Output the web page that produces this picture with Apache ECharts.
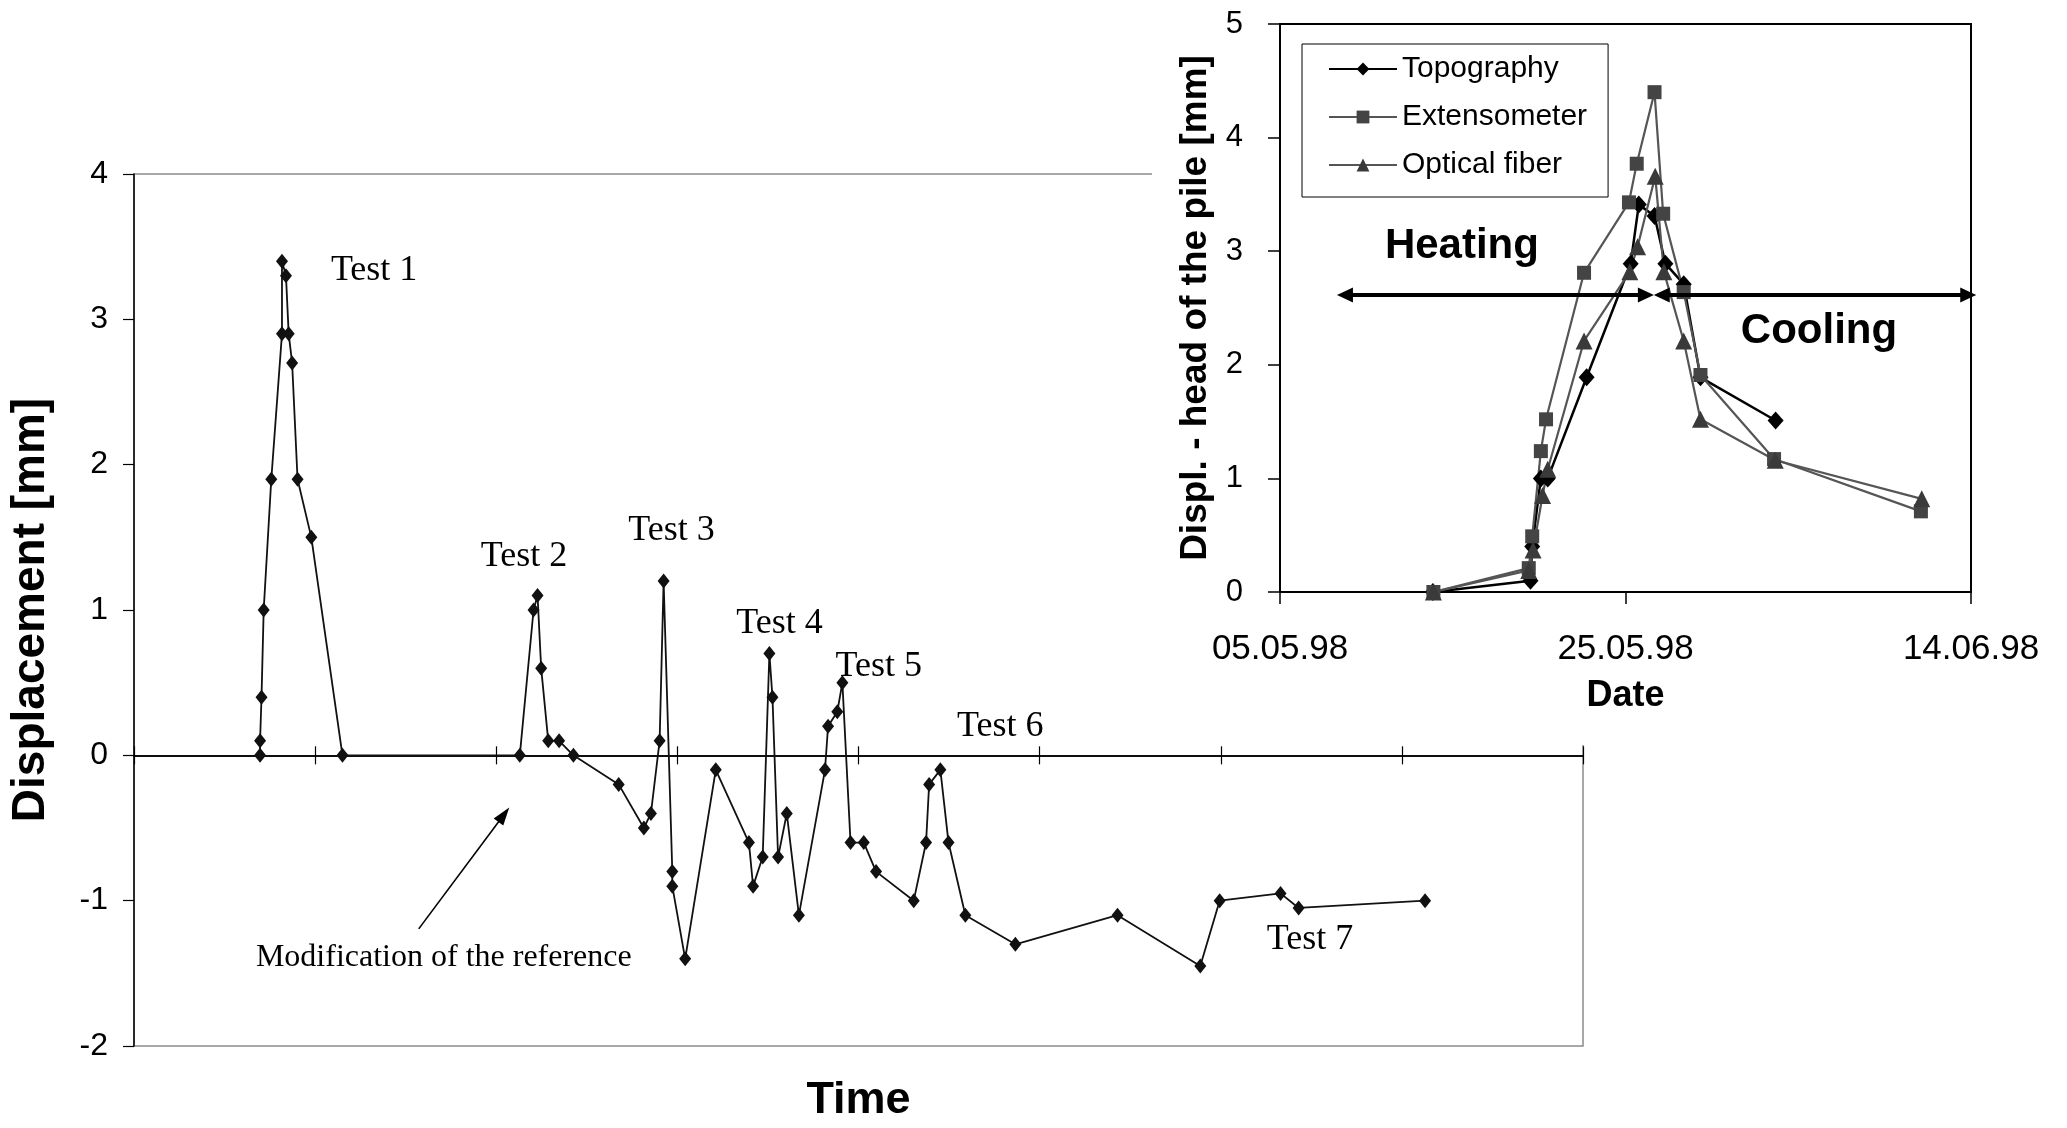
<!DOCTYPE html>
<html>
<head>
<meta charset="utf-8">
<script src="https://cdn.jsdelivr.net/npm/echarts@6/dist/echarts.min.js"></script>
<style>
html,body{margin:0;padding:0;background:#fff;}
#chart{width:2067px;height:1128px;}
</style>
</head>
<body>
<div id="chart"></div>
<script>
// ---------- Main chart data (time in arbitrary units, displacement in mm) ----------
const timeValues = [
  0.696, 0.696, 0.704, 0.716, 0.758, 0.817, 0.817, 0.839, 0.854, 0.873, 0.903, 0.979, 1.151,
  2.130, 2.206, 2.228, 2.248, 2.287, 2.347, 2.426, 2.676, 2.815, 2.854, 2.902, 2.924, 2.972, 2.972,
  3.043, 3.212, 3.395, 3.418, 3.471, 3.508, 3.525, 3.556, 3.604, 3.671, 3.815, 3.832, 3.883, 3.911,
  3.956, 4.029, 4.097, 4.305, 4.373, 4.390, 4.452, 4.497, 4.590, 4.866, 5.430, 5.887, 5.994, 6.330,
  6.430, 7.128
];
const displacementValues = [
  0, 0.1, 0.4, 1.0, 1.9, 2.9, 3.4, 3.3, 2.9, 2.7, 1.9, 1.5, 0,
  0, 1.0, 1.1, 0.6, 0.1, 0.1, 0, -0.2, -0.5, -0.4, 0.1, 1.2, -0.8, -0.9,
  -1.4, -0.1, -0.6, -0.9, -0.7, 0.7, 0.4, -0.7, -0.4, -1.1, -0.1, 0.2, 0.3, 0.5,
  -0.6, -0.6, -0.8, -1.0, -0.6, -0.2, -0.1, -0.6, -1.1, -1.3, -1.1, -1.45, -1.0, -0.95,
  -1.05, -1.0
];
const mainYTicks = [-2, -1, 0, 1, 2, 3, 4];

// ---------- Inset data (days after 05.05.98, displacement in mm) ----------
const dateTickLabels = ['05.05.98', '25.05.98', '14.06.98'];
const topoDays   = [8.85, 14.5, 14.6, 15.1, 15.5, 17.75, 20.3, 20.77, 21.68, 22.31, 23.37, 24.34, 28.69];
const topoValues = [0, 0.10, 0.40, 1.00, 1.00, 1.89, 2.89, 3.41, 3.31, 2.89, 2.71, 1.89, 1.51];
const extDays    = [8.88, 14.4, 14.6, 15.1, 15.4, 17.6, 20.2, 20.65, 21.68, 22.18, 23.37, 24.34, 28.6, 37.1];
const extValues  = [0, 0.21, 0.49, 1.24, 1.52, 2.81, 3.43, 3.77, 4.40, 3.33, 2.64, 1.91, 1.17, 0.71];
const fiberDays  = [8.88, 14.4, 14.65, 15.2, 15.5, 17.6, 20.25, 20.7, 21.72, 22.22, 23.37, 24.34, 28.67, 37.15];
const fiberValues= [0, 0.19, 0.37, 0.85, 1.08, 2.21, 2.82, 3.04, 3.66, 2.82, 2.21, 1.52, 1.16, 0.82];

// ---------- Annotations (in data coordinates) ----------
const mainNotes = [
  {text: 'Test 1', x: 1.087, y: 3.338, size: 36},
  {text: 'Test 2', x: 1.914, y: 1.369, size: 36},
  {text: 'Test 3', x: 2.729, y: 1.546, size: 36},
  {text: 'Test 4', x: 3.325, y: 0.909, size: 36},
  {text: 'Test 5', x: 3.873, y: 0.608, size: 36},
  {text: 'Test 6', x: 4.544, y: 0.201, size: 36},
  {text: 'Test 7', x: 6.254, y: -1.265, size: 36},
  {text: 'Modification of the reference', x: 0.673, y: -1.39, size: 32}
];
const insetNotes = [
  {text: 'Heating', x: 10.53, y: 3.046},
  {text: 'Cooling', x: 31.2, y: 2.29}
];

const pairs = (xs, ys) => xs.map((x, i) => [x, ys[i]]);
const SANS = '"Liberation Sans", Arial, sans-serif';
const SERIF = '"Liberation Serif", "Times New Roman", serif';

const chart = echarts.init(document.getElementById('chart'), null, {renderer: 'canvas'});

const mainAxisLine = {color: '#000', width: 1.5};
const option = {
  animation: false,
  backgroundColor: '#fff',
  grid: [
    {left: 133, top: 174, width: 1450, height: 881, show: true, borderColor: '#8c8c8c', borderWidth: 1.5, z: 0},
    {left: 1280, top: 24, width: 691, height: 568, show: true, borderColor: '#000', borderWidth: 2, backgroundColor: '#fff', z: 11}
  ],
  xAxis: [
    {gridIndex: 0, type: 'value', min: 0, max: 8, interval: 1, position: 'bottom',
     axisLine: {onZero: true, onZeroAxisIndex: 0, lineStyle: mainAxisLine},
     axisTick: {show: true, length: 9, lineStyle: {color: '#000', width: 1.2}},
     axisLabel: {show: false}, splitLine: {show: false}},
    {gridIndex: 0, type: 'value', min: 0, max: 8, interval: 1, position: 'top',
     axisLine: {onZero: true, onZeroAxisIndex: 0, lineStyle: mainAxisLine},
     axisTick: {show: true, length: 9, lineStyle: {color: '#000', width: 1.2}},
     axisLabel: {show: false}, splitLine: {show: false}},
    {gridIndex: 0, type: 'value', min: 0, max: 8, position: 'bottom',
     axisLine: {show: false, onZero: false}, axisTick: {show: false}, axisLabel: {show: false}, splitLine: {show: false},
     name: 'Time', nameLocation: 'middle', nameGap: 32,
     nameTextStyle: {fontFamily: SANS, fontWeight: 'bold', fontSize: 45, color: '#000'}},
    {gridIndex: 1, type: 'value', min: 0, max: 40, interval: 20, z: 12,
     axisLine: {onZero: false, lineStyle: {color: '#000', width: 2}},
     axisTick: {show: true, length: 12, lineStyle: {color: '#000', width: 1.5}},
     axisLabel: {margin: 40, fontSize: 35, fontFamily: SANS, color: '#000',
                 formatter: v => dateTickLabels[Math.round(v / 20)]},
     splitLine: {show: false},
     name: 'Date', nameLocation: 'middle', nameGap: 86,
     nameTextStyle: {fontFamily: SANS, fontWeight: 'bold', fontSize: 36, color: '#000'}}
  ],
  yAxis: [
    {gridIndex: 0, type: 'value', min: mainYTicks[0], max: mainYTicks[mainYTicks.length - 1], interval: 1,
     axisLine: {show: true, onZero: false, lineStyle: mainAxisLine},
     axisTick: {show: true, length: 11, lineStyle: {color: '#000', width: 1.2}},
     axisLabel: {margin: 26, fontSize: 32, fontFamily: SANS, color: '#000'},
     splitLine: {show: false},
     name: 'Displacement [mm]', nameLocation: 'middle', nameGap: 80,
     nameTextStyle: {fontFamily: SANS, fontWeight: 'bold', fontSize: 46, color: '#000'}},
    {gridIndex: 1, type: 'value', min: 0, max: 5, interval: 1, z: 12,
     axisLine: {show: true, onZero: false, lineStyle: {color: '#000', width: 2}},
     axisTick: {show: true, length: 12, lineStyle: {color: '#000', width: 1.5}},
     axisLabel: {margin: 37, fontSize: 31, fontFamily: SANS, color: '#000'},
     splitLine: {show: false},
     name: 'Displ. - head of the pile [mm]', nameLocation: 'middle', nameGap: 66,
     nameTextStyle: {fontFamily: SANS, fontWeight: 'bold', fontSize: 37, color: '#000'}}
  ],
  legend: {
    data: ['Topography', 'Extensometer', 'Optical fiber'],
    orient: 'vertical', left: 1302, top: 44, z: 14,
    padding: [10, 21, 17, 26], itemGap: 18, itemWidth: 68, itemHeight: 16,
    backgroundColor: '#fff', borderColor: '#000', borderWidth: 1, borderRadius: 0,
    textStyle: {fontFamily: SANS, fontSize: 30, color: '#000', lineHeight: 30}
  },
  series: [
    {type: 'line', name: 'Displacement', xAxisIndex: 0, yAxisIndex: 0, z: 3,
     data: pairs(timeValues, displacementValues),
     symbol: 'diamond', symbolSize: [12, 15],
     lineStyle: {color: '#111', width: 1.8}, itemStyle: {color: '#111'},
     markLine: {silent: true, z: 5, symbol: ['none', 'triangle'], symbolSize: [12, 18],
       label: {show: false}, lineStyle: {color: '#000', width: 1.6, type: 'solid'},
       data: [[{coord: [1.572, -1.194]}, {coord: [2.042, -0.409]}]]}},
    {type: 'line', name: 'Topography', xAxisIndex: 3, yAxisIndex: 1, z: 13, clip: false,
     data: pairs(topoDays, topoValues),
     symbol: 'diamond', symbolSize: [16, 18],
     lineStyle: {color: '#000', width: 2.5}, itemStyle: {color: '#000'},
     markLine: {silent: true, z: 16, symbol: ['triangle', 'triangle'], symbolSize: [15, 16],
       label: {show: false}, lineStyle: {color: '#000', width: 4, type: 'solid'},
       data: [
         [{coord: [3.76, 2.614]}, {coord: [21.18, 2.614]}],
         [{coord: [22.1, 2.614]}, {coord: [39.84, 2.614]}]
       ]}},
    {type: 'line', name: 'Extensometer', xAxisIndex: 3, yAxisIndex: 1, z: 13,
     data: pairs(extDays, extValues),
     symbol: 'rect', symbolSize: 14,
     lineStyle: {color: '#555', width: 2.2}, itemStyle: {color: '#444'}},
    {type: 'line', name: 'Optical fiber', xAxisIndex: 3, yAxisIndex: 1, z: 13,
     data: pairs(fiberDays, fiberValues),
     symbol: 'triangle', symbolSize: 17,
     lineStyle: {color: '#555', width: 2.2}, itemStyle: {color: '#3a3a3a'}}
  ]
};
chart.setOption(option);

const graphics = [
  {type: 'rect', silent: true, z: 10, shape: {x: 1152, y: 0, width: 915, height: 745}, style: {fill: '#fff'}}
];
mainNotes.forEach(n => {
  const p = chart.convertToPixel({xAxisIndex: 0, yAxisIndex: 0}, [n.x, n.y]);
  graphics.push({type: 'text', silent: true, z: 9, x: p[0], y: p[1],
    style: {text: n.text, fontFamily: SERIF, fontSize: n.size, fill: '#000', align: 'left', verticalAlign: 'middle'}});
});
insetNotes.forEach(n => {
  const p = chart.convertToPixel({xAxisIndex: 3, yAxisIndex: 1}, [n.x, n.y]);
  graphics.push({type: 'text', silent: true, z: 17, x: p[0], y: p[1],
    style: {text: n.text, fontFamily: SANS, fontWeight: 'bold', fontSize: 42, fill: '#000', align: 'center', verticalAlign: 'middle'}});
});
chart.setOption({graphic: graphics});
</script>
</body>
</html>
